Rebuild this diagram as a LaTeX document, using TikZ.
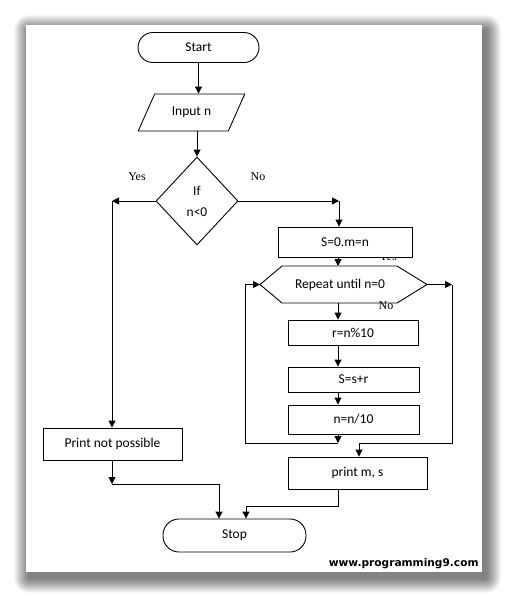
\documentclass[tikz,border=0pt]{standalone}
\usepackage{fontspec}
\setmainfont{Carlito}
\newfontfamily\yesnofont{Liberation Serif}
\newfontfamily\wmfont{DejaVu Sans}
\usetikzlibrary{arrows.meta,shapes.geometric}
\begin{document}
\begin{tikzpicture}[x=1pt,y=-1pt,
  line width=0.9pt,
  every node/.style={font=\fontsize{13.5}{16}\selectfont},
  arr/.style={-{Triangle[length=7pt,width=7pt]}},
  boxst/.style={draw,rectangle,inner sep=0pt},
  termst/.style={draw,rectangle,inner sep=0pt,rounded corners=15pt},
  lbl/.style={font=\yesnofont\fontsize{12}{14}\selectfont,inner sep=0pt}]
\useasboundingbox (0,0) rectangle (507,598);
\fill[white] (0,0) rectangle (507,598);
% shadow
\foreach \i in {0.5,1,...,15}{
  \fill[black,opacity=0.018,rounded corners=\i pt] (29-\i,30-\i) rectangle (486+\i,578+\i);
}
\fill[white] (26,25) rectangle (482,572);

% nodes
\node[termst,minimum width=121,minimum height=30] (start) at (198.5,47.5) {Start};
\node[draw,trapezium,trapezium left angle=51,trapezium right angle=129,trapezium stretches=true,
      minimum width=107,minimum height=37,inner sep=0pt] (io) at (191.5,112.5) {Input n};
\node[draw,diamond,minimum width=82,minimum height=88,inner sep=0pt,align=center,
      font=\fontsize{13.5}{21}\selectfont] (dia) at (197,201) {If\\n<0};
\node[lbl] (yes1) at (137,177) {Yes};
\node[lbl] (no1) at (258,177) {No};
\node[lbl] (yes2) at (388,257) {Yes};
\node[boxst,fill=white,minimum width=134,minimum height=30] (s0) at (345,242) {S=0.m=n};
% hexagon
\coordinate (hexW) at (260,284.5);
\coordinate (hexE) at (427,284.5);
\coordinate (hexN) at (338,266);
\coordinate (hexS) at (338,303);
\draw (hexW) -- (282,266) -- (397,266) -- (hexE) -- (397,303) -- (282,303) -- cycle;
\node (rep) at (340,284.5) {Repeat until n=0};
\node[lbl] (no2) at (386,306) {No};
\node[boxst,minimum width=130,minimum height=25] (r) at (353,332.5) {r=n\%10};
\node[boxst,minimum width=131,minimum height=25] (ss) at (353.5,379.5) {S=s+r};
\node[boxst,minimum width=131,minimum height=29] (nn) at (353.5,419.5) {n=n/10};
\node[boxst,minimum width=139,minimum height=32] (pm) at (357.5,473) {print m, s};
\node[boxst,minimum width=139,minimum height=32] (pnp) at (112.5,444) {Print not possible};
\node[termst,minimum width=143,minimum height=33,rounded corners=16pt] (stop) at (234.5,535.5) {Stop};
\node[anchor=east,inner sep=0pt,font=\wmfont\bfseries\fontsize{10.6}{12}\selectfont] (wm) at (479,563.5) {www.programming9.com};

% coordinates
\coordinate (yesC) at (112,201);
\coordinate (noC) at (339,201);
\coordinate (loopB) at (338,443);
\coordinate (loopBL) at (245,443);
\coordinate (loopTL) at (245,284.5);
\coordinate (rTop) at (452,284.5);
\coordinate (rBot) at (452,443);
\coordinate (exitC) at (359,443);
\coordinate (pmA) at (338,506);
\coordinate (pmB) at (246,506);
\coordinate (pnA) at (112,484);
\coordinate (pnB) at (219,484);

% connectors
\draw[arr] (start.south) -- (start.south |- io.north);
\draw[arr] (io.south -| dia.north) -- (dia.north);
\draw[arr] (dia.west) -- (yesC);
\draw[arr] (yesC) -- (yesC |- pnp.north);
\draw[arr] (dia.east) -- (noC);
\draw[arr] (noC) -- (noC |- s0.north);
\draw[arr] (hexN |- s0.south) -- (hexN);
\draw[arr] (hexS) -- (hexS |- r.north);
\draw[arr] (hexS |- r.south) -- (hexS |- ss.north);
\draw[arr] (hexS |- ss.south) -- (hexS |- nn.north);
\draw[arr] (hexS |- nn.south) -- (loopB);
\draw[arr] (loopB) -- (loopBL) -- (loopTL) -- (hexW);
\draw[arr] (hexE) -- (rTop);
\draw[arr] (rTop) -- (rBot) -- (exitC) -- (exitC |- pm.north);
\draw[arr] (hexS |- pm.south) -- (pmA) -- (pmB) -- (pmB |- stop.north);
\draw[arr] (pnp.south -| pnA) -- (pnA);
\draw[arr] (pnA) -- (pnB) -- (pnB |- stop.north);
\end{tikzpicture}
\end{document}
